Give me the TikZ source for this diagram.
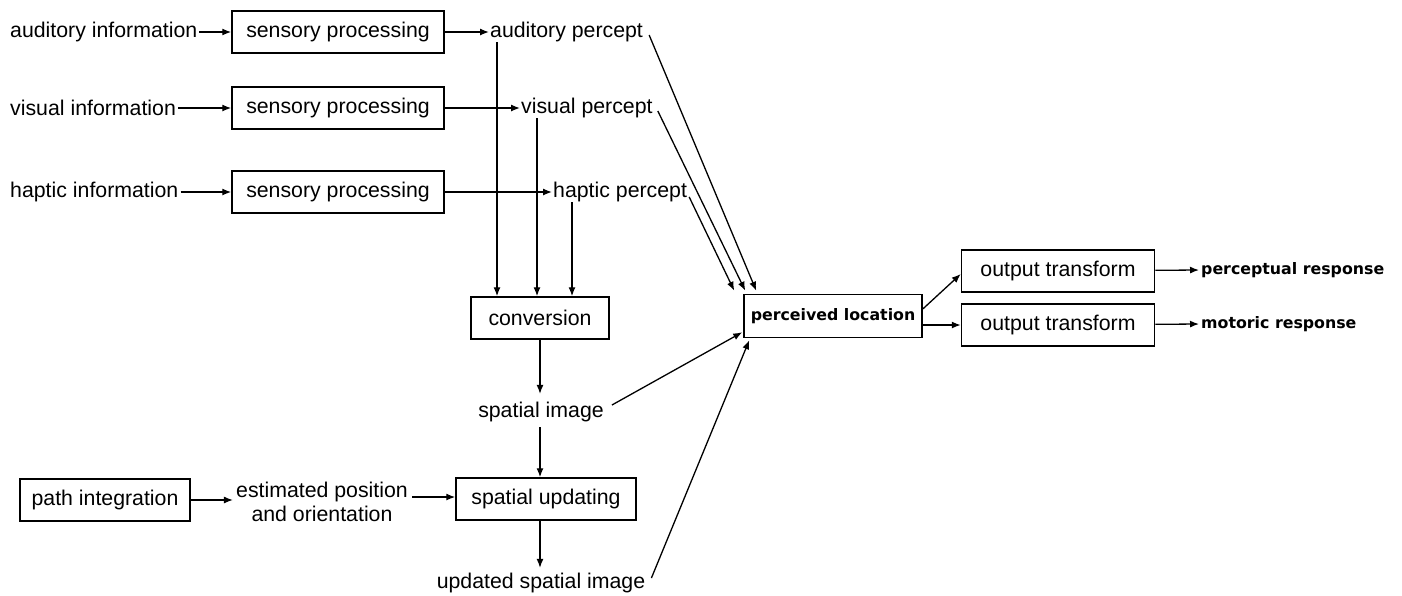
\documentclass[tikz,border=0pt]{standalone}
\usepackage{fontspec}
\setmainfont{Liberation Sans}
\newfontfamily\boldlab{DejaVu Sans}
\usetikzlibrary{arrows.meta}
\begin{document}
\begin{tikzpicture}[x=1pt,y=-1pt,
  every node/.style={inner sep=0pt,font=\fontsize{21.3}{24}\selectfont},
  box/.style={draw,line width=1.5pt,minimum height=42pt,minimum width=#1},
  lab/.style={font=\boldlab\bfseries\fontsize{15.8}{18}\selectfont},
  arr/.style={line width=1.3pt,-{Latex[length=9pt,width=7pt]}}]
\useasboundingbox (0,0) rectangle (1402,595);
% inputs
\node[anchor=west] (ai) at (10,32) {auditory information};
\node[anchor=west] (vi) at (10,108) {visual information};
\node[anchor=west] (hi) at (10,192) {haptic information};
\node[box=212pt] (sp1) at (338,32) {sensory processing};
\node[box=212pt] (sp2) at (338,108) {sensory processing};
\node[box=212pt] (sp3) at (338,192) {sensory processing};
\node[anchor=west] (ap) at (490,32) {auditory percept};
\node[anchor=west] (vp) at (521,108) {visual percept};
\node[anchor=west] (hp) at (553,192) {haptic percept};
\draw[arr] ([xshift=2pt]ai.east) -- (sp1);
\draw[arr] ([xshift=2pt]vi.east) -- (sp2);
\draw[arr] ([xshift=2pt]hi.east) -- (sp3);
\draw[arr] (sp1) -- ([xshift=-1pt]ap.west);
\draw[arr] (sp2) -- ([xshift=-1pt]vp.west);
\draw[arr] (sp3) -- ([xshift=-1pt]hp.west);
% conversion
\node[box=138pt] (cv) at (540,318) {conversion};
\draw[arr] ([xshift=7pt]ap.south west) -- ([xshift=7pt]ap.south west |- cv.north);
\draw[arr] ([xshift=16pt]vp.south west) -- ([xshift=16pt]vp.south west |- cv.north);
\draw[arr] ([xshift=19pt]hp.south west) -- ([xshift=19pt]hp.south west |- cv.north);
\node (si) at (541,412) {spatial image};
\draw[arr] (cv.south) -- ([yshift=8pt]si.north -| cv.south);
\node[box=180pt] (su) at (546,499) {spatial updating};
\draw[arr] ([yshift=-5pt]si.south -| cv.south) -- (su.north -| cv.south);
\node (usi) at (541,583) {updated spatial image};
\draw[arr] (su.south -| cv.south) -- ([yshift=5pt]usi.north -| cv.south);
% path integration
\node[box=170pt] (pi) at (105,500) {path integration};
\node[align=center] (ep) at (322,502) {estimated position\\and orientation};
\draw[arr] (pi) -- ([xshift=-3pt]ep.west |- pi);
\draw[arr] ([xshift=4pt,yshift=2pt]ep.east |- su.west) -- ([yshift=2pt]su.west);
% perceived location
\node[box=178pt,minimum height=43pt,lab] (pl) at (833,316) {perceived location};
\draw[arr] ([xshift=6pt,yshift=-3pt]ap.east) -- ([xshift=13pt,yshift=3pt]pl.north west);
\draw[arr] ([xshift=5pt,yshift=-3pt]vp.east) -- ([xshift=2pt,yshift=3pt]pl.north west);
\draw[arr] ([xshift=2pt,yshift=-5pt]hp.east) -- ([xshift=-9pt,yshift=3pt]pl.north west);
\draw[arr] ([xshift=8pt,yshift=7pt]si.east) -- ([xshift=-1pt,yshift=6pt]pl.south west);
\draw[arr] ([xshift=6pt,yshift=5pt]usi.east) -- ([xshift=6pt,yshift=-2pt]pl.south west);
% outputs
\node[box=193pt] (ot1) at (1058,271) {output transform};
\node[box=193pt] (ot2) at (1058,325) {output transform};
\draw[arr] ([yshift=7pt]pl.east) -- ([yshift=-3pt]ot1.west);
\draw[arr] (ot2.west -| pl.east) -- (ot2.west);
\node[lab,anchor=west] (pr) at (1201,270) {perceptual response};
\node[lab,anchor=west] (mr) at (1201,324) {motoric response};
\draw[arr] (ot1) -- ([xshift=-2pt]pr.west);
\draw[arr] (ot2) -- ([xshift=-2pt]mr.west);
\end{tikzpicture}
\end{document}
